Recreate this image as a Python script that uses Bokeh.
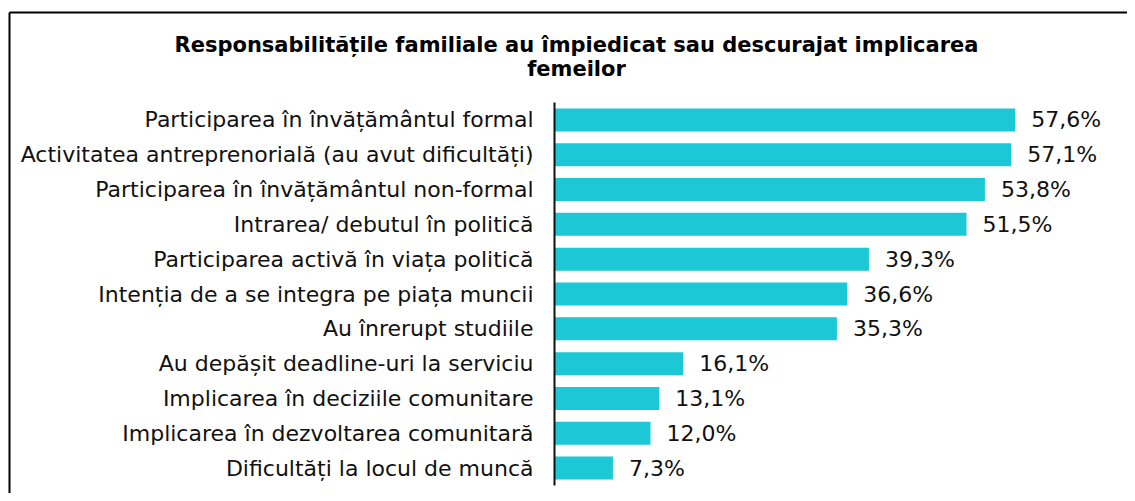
from bokeh.plotting import figure
from bokeh.models import Range1d, ColumnDataSource
from bokeh.core.properties import value
from bokeh.embed import file_html
from bokeh.resources import INLINE

title_lines = ["Responsabilitățile familiale au împiedicat sau descurajat implicarea", "femeilor"]
categories = [
    "Participarea în învățământul formal",
    "Activitatea antreprenorială (au avut dificultăți)",
    "Participarea în învățământul non-formal",
    "Intrarea/ debutul în politică",
    "Participarea activă în viața politică",
    "Intenția de a se integra pe piața muncii",
    "Au înrerupt studiile",
    "Au depășit deadline-uri la serviciu",
    "Implicarea în deciziile comunitare",
    "Implicarea în dezvoltarea comunitară",
    "Dificultăți la locul de muncă",
]
values = [57.6, 57.1, 53.8, 51.5, 39.3, 36.6, 35.3, 16.1, 13.1, 12.0, 7.3]

n = len(categories)
ypos = [i + 0.5 for i in range(n)]
src = ColumnDataSource(dict(
    y=ypos,
    v=values,
    cat=categories,
    lab=[f"{v:.1f}".replace(".", ",") + "%" for v in values],
))

W, H = 1127, 493
PX_X = 8.0
PX_Y = 383.0 / 11
x0 = -554 / PX_X
x1 = x0 + W / PX_X
y_top = -102 / PX_Y
y_bot = n + (H - 485) / PX_Y

p = figure(width=W, height=H, output_backend="svg", toolbar_location=None,
           x_range=Range1d(x0, x1), y_range=Range1d(y_bot, y_top),
           x_axis_location=None, y_axis_location=None,
           min_border=0, min_border_left=0, min_border_right=0,
           min_border_top=0, min_border_bottom=0)
p.grid.visible = False
p.outline_line_color = None
p.background_fill_color = "white"
p.border_fill_color = "white"

# chart frame border (top and left edges visible)
bx = x0 + 9 / PX_X
by = y_top + 12 / PX_Y
p.segment(x0=[bx, bx], y0=[by, by], x1=[x1 + 1, bx], y1=[by, y_bot + 1],
          line_color="black", line_width=2)

p.hbar(y="y", right="v", left=0, height=0.66, source=src,
       fill_color="#1CC8D5", line_color=None)

# axis line
p.segment(x0=[0], y0=[0], x1=[0], y1=[n], line_color="#111111", line_width=2)

p.text(x=-21 / PX_X, y="y", text="cat", source=src, text_align="right", text_baseline="middle",
       text_font=value("DejaVu Sans"), text_font_size="22px", text_color="#111111")
p.text(x="v", y="y", text="lab", source=src, x_offset=16, text_align="left", text_baseline="middle",
       text_font=value("DejaVu Sans"), text_font_size="22px", text_color="#111111")

p.text(x=[22 / PX_X] * 2, y=[y_top + 44 / PX_Y, y_top + 68 / PX_Y], text=title_lines,
       text_align="center", text_baseline="middle",
       text_font=value("DejaVu Sans"), text_font_size="21px", text_font_style="bold",
       text_color="black")

open("out.html", "w").write(file_html(p, INLINE))
